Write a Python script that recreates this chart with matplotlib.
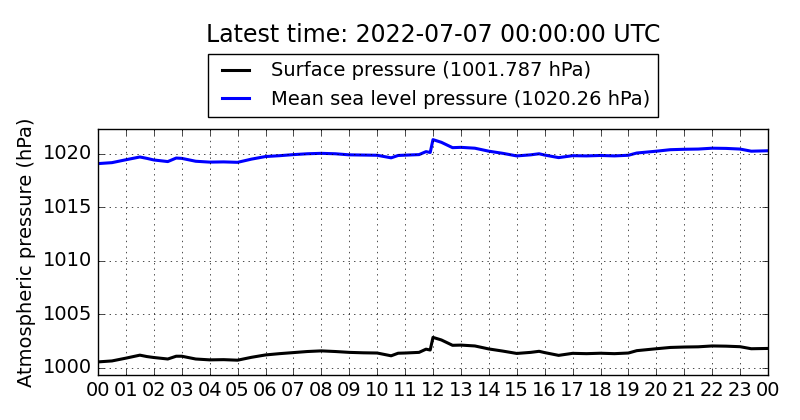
import matplotlib
matplotlib.use('Agg')
import matplotlib.pyplot as plt
import matplotlib.dates as mdates
import pandas as pd

plt.style.use('classic')

# hours after 2022-07-06 00:00 UTC
msl_hours = [0.0, 0.5, 1.0, 1.5, 1.75, 2.0, 2.5, 2.8, 3.0, 3.5, 4.0, 4.5, 5.0, 5.5,
             6.0, 6.5, 7.0, 7.5, 8.0, 8.5, 9.0, 9.5, 10.0, 10.5, 10.75, 11.0, 11.5,
             11.75, 11.9, 12.0, 12.3, 12.7, 13.0, 13.5, 14.0, 14.5, 15.0, 15.5, 15.8,
             16.0, 16.5, 17.0, 17.5, 18.0, 18.5, 19.0, 19.3, 20.0, 20.5, 21.0, 21.5,
             22.0, 22.5, 23.0, 23.4, 24.0]
msl = [1019.06, 1019.15, 1019.42, 1019.68, 1019.55, 1019.40, 1019.25, 1019.58, 1019.55,
       1019.28, 1019.20, 1019.22, 1019.18, 1019.48, 1019.72, 1019.80, 1019.90, 1019.98,
       1020.02, 1019.98, 1019.88, 1019.86, 1019.84, 1019.60, 1019.82, 1019.85, 1019.90,
       1020.18, 1020.10, 1021.30, 1021.05, 1020.55, 1020.58, 1020.50, 1020.22, 1020.02,
       1019.78, 1019.88, 1019.98, 1019.86, 1019.62, 1019.80, 1019.78, 1019.82, 1019.78,
       1019.84, 1020.05, 1020.22, 1020.36, 1020.40, 1020.42, 1020.50, 1020.48, 1020.42,
       1020.22, 1020.26]
surface = [1000.53, 1000.62, 1000.88, 1001.16, 1001.03, 1000.94, 1000.80, 1001.06, 1001.06,
           1000.80, 1000.72, 1000.74, 1000.69, 1000.96, 1001.18, 1001.30, 1001.40, 1001.50,
           1001.56, 1001.50, 1001.42, 1001.38, 1001.36, 1001.10, 1001.34, 1001.36, 1001.42,
           1001.72, 1001.64, 1002.82, 1002.58, 1002.08, 1002.10, 1002.02, 1001.74, 1001.54,
           1001.32, 1001.42, 1001.52, 1001.40, 1001.14, 1001.33, 1001.30, 1001.34, 1001.30,
           1001.36, 1001.58, 1001.76, 1001.88, 1001.92, 1001.94, 1002.02, 1002.00, 1001.95,
           1001.76, 1001.787]

t0 = pd.Timestamp('2022-07-06 00:00:00')
times = [t0 + pd.Timedelta(hours=h) for h in msl_hours]

fig = plt.figure(figsize=(8, 4.2), dpi=100, facecolor='white')
ax = fig.add_axes([0.1225, 0.107, 0.8375, 0.586])

ax.plot(times, surface, color='k', lw=2.2, label='Surface pressure (1001.787 hPa)')
ax.plot(times, msl, color='b', lw=2.2, label='Mean sea level pressure (1020.26 hPa)')

ax.set_xlim(t0, t0 + pd.Timedelta(hours=24))
ax.set_ylim(999.3, 1022.3)
ax.xaxis.set_major_locator(mdates.HourLocator(interval=1))
ax.xaxis.set_major_formatter(mdates.DateFormatter('%H'))
ax.set_yticks([1000, 1005, 1010, 1015, 1020])
ax.ticklabel_format(axis='y', useOffset=False)
ax.tick_params(labelsize=14)
ax.set_ylabel('Atmospheric pressure (hPa)', fontsize=14)
ax.grid(True)

ax.legend(loc='lower center', bbox_to_anchor=(0.5, 1.049), borderaxespad=0,
          fontsize=14, frameon=True, fancybox=False, handlelength=2)

# title centred over the axes, above the legend
fig.text(433 / 800, 1 - 35 / 420, 'Latest time: 2022-07-07 00:00:00 UTC', ha='center', va='center',
         fontsize=17)

fig.savefig('out.png', dpi=100, facecolor='white')
